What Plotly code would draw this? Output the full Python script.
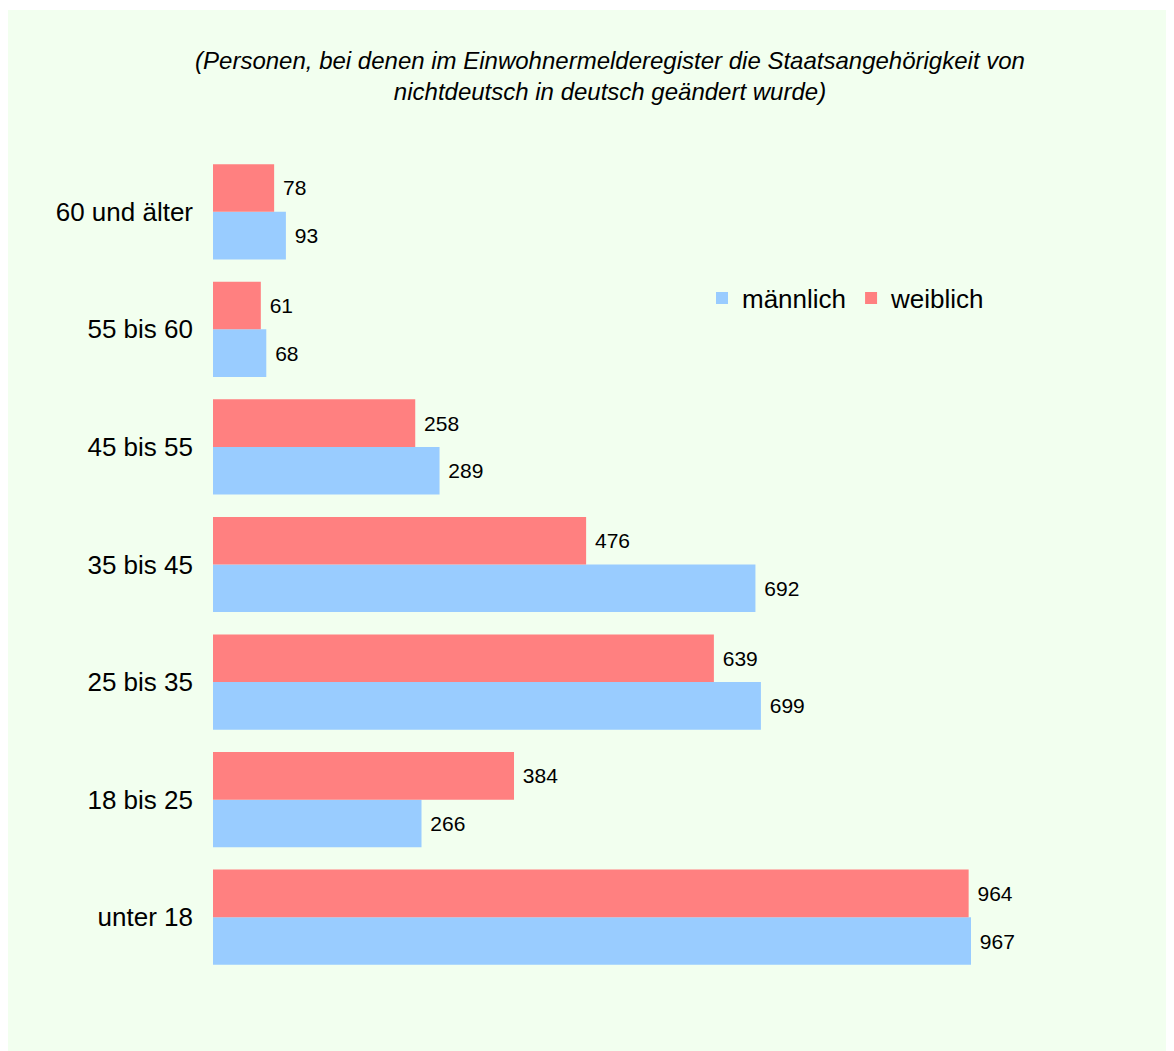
import plotly.graph_objects as go

categories = ["unter 18", "18 bis 25", "25 bis 35", "35 bis 45", "45 bis 55", "55 bis 60", "60 und älter"]
maennlich = [967, 266, 699, 692, 289, 68, 93]
weiblich = [964, 384, 639, 476, 258, 61, 78]
series_names = ["männlich", "weiblich"]
title_text = ("<i>(Personen, bei denen im Einwohnermelderegister die Staatsangehörigkeit von<br>"
              "nichtdeutsch in deutsch geändert wurde)</i>")

# figure size (page has an 8px body margin)
W, H = 1166, 1043
ML, MR, MT, MB = 205, 20, 145, 75
PW, PH = W - ML - MR, H - MT - MB
FONT = "Liberation Sans, Arial, sans-serif"
BG = "#F2FFEF"
PX_PER_UNIT = (971 - 213) / 967

fig = go.Figure()
fig.add_trace(go.Bar(
    y=categories, x=maennlich, name=series_names[0], orientation="h",
    marker=dict(color="#99CCFF", line=dict(width=0)),
    text=maennlich, texttemplate="\u00a0%{x}", textposition="outside",
    textfont=dict(size=21, color="#000000", family=FONT), cliponaxis=False,
))
fig.add_trace(go.Bar(
    y=categories, x=weiblich, name=series_names[1], orientation="h",
    marker=dict(color="#FF8080", line=dict(width=0)),
    text=weiblich, texttemplate="\u00a0%{x}", textposition="outside",
    textfont=dict(size=21, color="#000000", family=FONT), cliponaxis=False,
))

def px_to_paper_x(px):
    return (px - ML) / PW

def px_to_paper_y(py):
    return (H - MB - py) / PH

# thin white strip at the very top of the figure
fig.add_shape(type="rect", xref="paper", yref="paper",
              x0=px_to_paper_x(-5), x1=px_to_paper_x(W + 5),
              y0=px_to_paper_y(2), y1=px_to_paper_y(-5),
              fillcolor="white", line=dict(width=0), layer="below")

fig.update_layout(
    width=W, height=H,
    margin=dict(l=ML, r=MR, t=MT, b=MB, pad=0),
    paper_bgcolor=BG, plot_bgcolor="rgba(0,0,0,0)",
    barmode="group", bargap=0.19, bargroupgap=0,
    font=dict(family=FONT, color="#000000"),
    title=dict(text=title_text, xref="container", yref="container",
               x=602 / W, xanchor="center", y=1 - 61 / H, yanchor="middle",
               font=dict(size=24, family=FONT, color="#000000")),
    xaxis=dict(range=[0, PW / PX_PER_UNIT], showgrid=False, zeroline=False,
               showticklabels=False, showline=False, ticks=""),
    yaxis=dict(type="category", categoryorder="array", categoryarray=categories,
               showgrid=False, zeroline=False, showline=False, ticks="",
               tickfont=dict(size=26, family=FONT, color="#000000"),
               ticklabelstandoff=19),
    legend=dict(orientation="h", xref="paper", yref="paper",
                x=px_to_paper_x(694), xanchor="left",
                y=px_to_paper_y(290), yanchor="middle",
                font=dict(size=26, family=FONT, color="#000000"),
                bgcolor="rgba(0,0,0,0)", traceorder="normal", itemwidth=30),
    showlegend=True,
)

fig.write_html("out.html")
